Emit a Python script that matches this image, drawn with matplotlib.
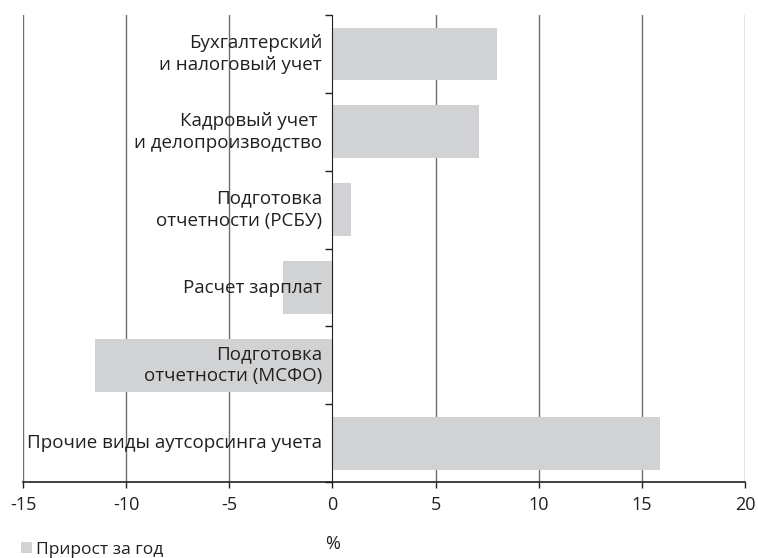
import matplotlib.pyplot as plt

plt.rcParams['font.family'] = ['Open Sans', 'DejaVu Sans']

categories = [
    'Бухгалтерский\nи налоговый учет',
    'Кадровый учет \nи делопроизводство',
    'Подготовка\nотчетности (РСБУ)',
    'Расчет зарплат',
    'Подготовка\nотчетности (МСФО)',
    'Прочие виды аутсорсинга учета',
]
values = [8.0, 7.1, 0.9, -2.4, -11.5, 15.9]
xticks = [-15, -10, -5, 0, 5, 10, 15, 20]

fig = plt.figure(figsize=(7.58, 5.58), dpi=100)
ax = fig.add_axes([0.0303, 0.136, 0.9525, 0.837])

pos = list(range(len(categories)))
ax.barh(pos, values, height=0.68, color='#d1d2d4', zorder=1,
        label='Прирост за год')

for x in xticks:
    if x != 0:
        ax.axvline(x, color='#6d6e71', lw=1.0, zorder=0)

ax.set_xlim(-15, 20)
ax.set_ylim(len(categories) - 0.5, -0.5)
ax.set_xticks(xticks)
ax.set_xticklabels([str(x) for x in xticks], fontsize=13, color='#231f20')
ax.tick_params(axis='x', length=4, width=1, color='#231f20', pad=6)

# y axis at zero
ax.spines['left'].set_position(('data', 0))
ax.spines['left'].set_color('#231f20')
ax.spines['left'].set_zorder(3)
for s in ['top', 'right']:
    ax.spines[s].set_visible(False)
ax.spines['bottom'].set_color('#231f20')
ax.spines['bottom'].set_linewidth(1.2)
ax.set_yticks([p - 0.5 for p in pos] + [len(categories) - 0.5])
ax.set_yticklabels([])
ax.tick_params(axis='y', length=5, width=1, color='#231f20')

for p, lab in zip(pos, categories):
    ax.text(-0.5, p, lab, ha='right', va='center', fontsize=13.5,
            color='#231f20', linespacing=1.3, zorder=4)

ax.set_xlabel('%', fontsize=13, color='#231f20')
ax.xaxis.set_label_coords(15 / 35, -0.113)

fig.legend(loc='lower left', bbox_to_anchor=(0.012, -0.021), frameon=False,
           fontsize=12.5, handlelength=0.6, handleheight=0.6,
           handletextpad=0.25, borderpad=0.2, labelcolor='#231f20')

fig.savefig('out.png', dpi=100)
